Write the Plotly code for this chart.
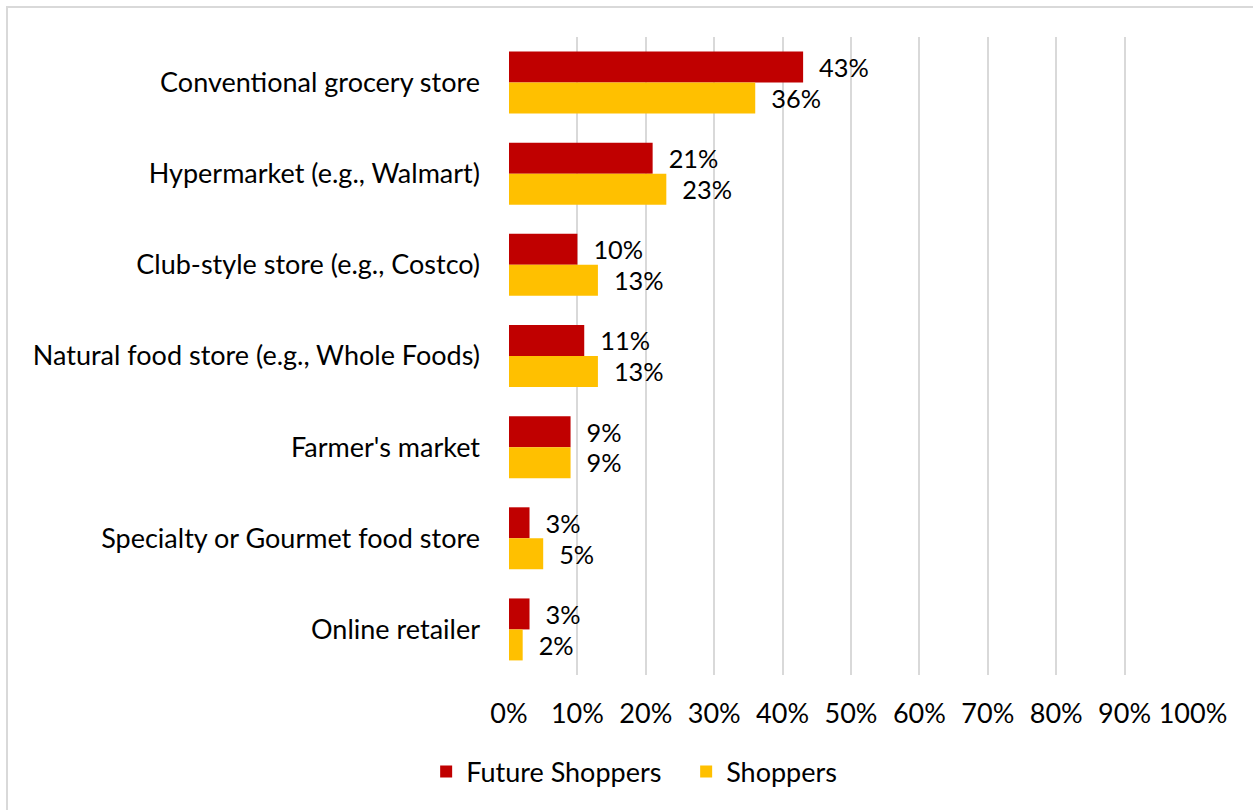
import plotly.graph_objects as go

categories = [
    "Conventional grocery store",
    "Hypermarket (e.g., Walmart)",
    "Club-style store (e.g., Costco)",
    "Natural food store (e.g., Whole Foods)",
    "Farmer's market",
    "Specialty or Gourmet food store",
    "Online retailer",
]
future_shoppers = [43, 21, 10, 11, 9, 3, 3]
shoppers = [36, 23, 13, 13, 9, 5, 2]
x_ticks = list(range(0, 101, 10))
x_tick_labels = [f"{t}%" for t in x_ticks]

FONT = "Lato"
SIZE = 27
RED = "#C00000"
GOLD = "#FFC000"

fig = go.Figure()
for name, vals, color in [("Future Shoppers", future_shoppers, RED),
                          ("Shoppers", shoppers, GOLD)]:
    fig.add_trace(go.Bar(
        name=name,
        y=categories,
        x=vals,
        orientation="h",
        marker=dict(color=color, line=dict(width=0)),
        text=[f"  {v}%" for v in vals],
        textposition="outside",
        textfont=dict(family=FONT, size=SIZE, color="#000000"),
        cliponaxis=False,
    ))

fig.update_layout(
    width=1253, height=810,
    barmode="group",
    bargap=0.32,
    bargroupgap=0,
    plot_bgcolor="white",
    paper_bgcolor="white",
    font=dict(family=FONT, size=SIZE, color="#000000"),
    margin=dict(l=509, r=60, t=37, b=135),
    legend=dict(orientation="h", x=0.259, xanchor="center", y=-0.152, yanchor="middle",
                font=dict(family=FONT, size=SIZE), itemwidth=30,
                entrywidth=215, entrywidthmode="pixels"),
    showlegend=True,
)
fig.update_xaxes(
    range=[0, 100], tickvals=x_ticks, ticktext=x_tick_labels,
    showgrid=True, gridcolor="#D9D9D9", gridwidth=2,
    zeroline=False, showline=False, ticks="",
    ticklabelstandoff=20,
    tickfont=dict(family=FONT, size=SIZE),
)
fig.update_yaxes(
    autorange="reversed", showgrid=False, showline=False, ticks="",
    ticklabelstandoff=28,
    tickfont=dict(family=FONT, size=SIZE),
)
# outer frame
fig.add_shape(type="rect", xref="paper", yref="paper",
              x0=-0.7339, x1=1.3, y0=-0.4, y1=1.047,
              line=dict(color="#D9D9D9", width=2), fillcolor="rgba(0,0,0,0)", layer="below")

fig.write_html("out.html")
